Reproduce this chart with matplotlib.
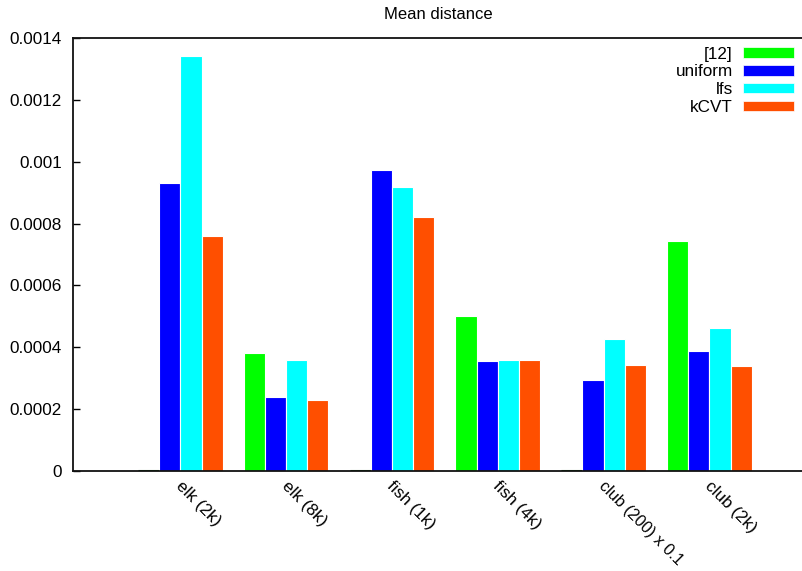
import matplotlib
matplotlib.use("Agg")
import matplotlib.pyplot as plt
from matplotlib.patches import Patch
from matplotlib.transforms import ScaledTranslation
import numpy as np

plt.rcParams['font.family'] = ['Liberation Sans', 'DejaVu Sans']

categories = ["elk (2k)", "elk (8k)", "fish (1k)", "fish (4k)", "club (200) x 0.1", "club (2k)"]
series_names = ["[12]", "uniform", "lfs", "kCVT"]
ref12 = [0.0, 0.000381, 0.0, 0.000501, 0.0, 0.000744]
uniform = [0.000932, 0.000240, 0.000973, 0.000357, 0.000295, 0.000388]
lfs = [0.001343, 0.000360, 0.000917, 0.000359, 0.000427, 0.000461]
kcvt = [0.000760, 0.000231, 0.000821, 0.000360, 0.000343, 0.000341]
ytick_values = [0, 0.0002, 0.0004, 0.0006, 0.0008, 0.001, 0.0012, 0.0014]
ytick_labels = ["0", "0.0002", "0.0004", "0.0006", "0.0008", "0.001", "0.0012", "0.0014"]
title = "Mean distance"

colors = ["#00FF00", "#0000FF", "#00FFFF", "#FF4F00"]
all_series = [ref12, uniform, lfs, kcvt]

fig = plt.figure(figsize=(8.03, 5.71), dpi=100)
ax = fig.add_axes([73/803, 1 - 471/571, 1 - 73/803, (471 - 38)/571])

x = np.arange(len(categories))
bw = 0.2
handles = []
for i, (vals, col, name) in enumerate(zip(all_series, colors, series_names)):
    offs = (i - 1.5) * bw
    edge = ['#006000' if v == 0 else 'white' for v in vals]
    lws = [2.2 if v == 0 else 0.8 for v in vals]
    ax.bar(x + offs, vals, width=bw, color=col, edgecolor=edge,
           linewidth=lws, zorder=2)
    handles.append(Patch(facecolor=col, edgecolor='white', linewidth=0.5, label=name))

ax.set_xlim(-1.015, 5.885)
ax.set_ylim(0, 0.0014)
ax.set_yticks(ytick_values)
ax.set_yticklabels(ytick_labels)
ax.set_xticks(x)
ax.set_xticklabels(categories, rotation=-45, ha='left', va='top',
                   rotation_mode='anchor')

ax.tick_params(axis='y', direction='in', length=5, width=1, pad=8,
               labelsize=12.3, colors='black')
ax.tick_params(axis='x', length=0, pad=5.5, labelsize=12.3)

shift = ScaledTranslation(3/100, 0, fig.dpi_scale_trans)
for lab in ax.get_xticklabels():
    lab.set_transform(lab.get_transform() + shift)
    if lab.get_text().startswith("club (200)"):
        lab.set_fontsize(11.6)

for s in ['left', 'top', 'bottom']:
    ax.spines[s].set_linewidth(1.3)
    ax.spines[s].set_color('#111111')
    ax.spines[s].set_zorder(3)
ax.spines['right'].set_visible(False)

ax.set_title(title, fontsize=12, pad=14)

leg = ax.legend(handles=handles, loc='upper right', frameon=False,
                markerfirst=False, fontsize=12.3, handlelength=3.0,
                handleheight=0.55, labelspacing=0.17, handletextpad=0.6,
                borderaxespad=0.2, borderpad=0.3)
for t in leg.get_texts():
    t.set_ha('right')

fig.savefig("out.png", dpi=100)
